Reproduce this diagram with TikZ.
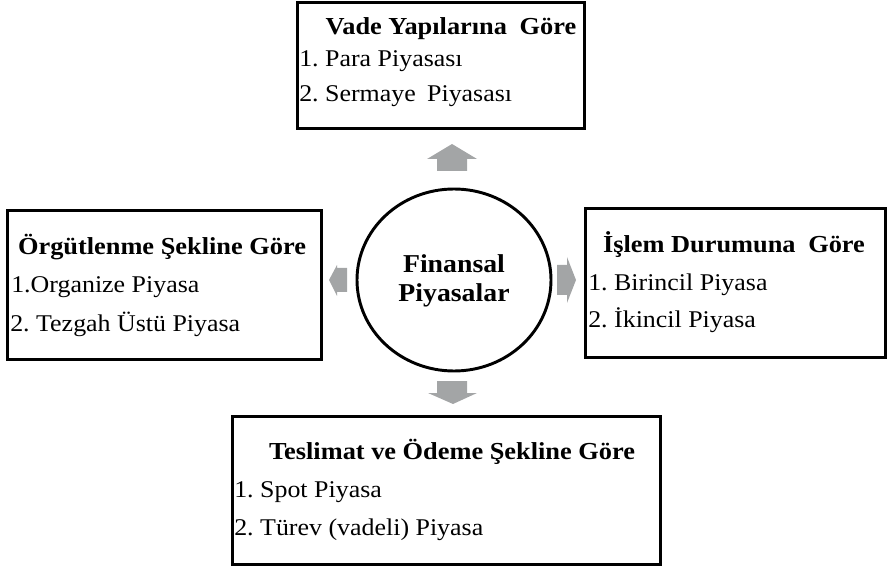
\documentclass[tikz,border=0pt]{standalone}
\usepackage{fontspec}
\setmainfont[FakeStretch=1.08]{Liberation Serif}
\definecolor{arrowgray}{RGB}{163,165,166}
\frenchspacing
\begin{document}
\begin{tikzpicture}[x=0.75pt,y=-0.75pt,
  box/.style={draw=black,line width=2.25pt},
  item/.style={inner sep=0pt,anchor=base west,font=\fontsize{18}{21}\selectfont},
  head/.style={inner sep=0pt,anchor=base,font=\fontsize{18.3}{21}\selectfont\bfseries},
  blockarrow/.style={fill=arrowgray,draw=none}]
\useasboundingbox (0,0) rectangle (889,570);
% boxes
\draw[box] (297,3) rectangle (584,129);
\draw[box] (7,211) rectangle (321,359);
\draw[box] (585,209) rectangle (885,357);
\draw[box] (232,416) rectangle (660,564);
% centre
\draw[line width=2.2pt] (454,280) ellipse [x radius=97, y radius=91];
\node[inner sep=0pt,anchor=base,font=\fontsize{19.3}{22}\selectfont\bfseries] (fin1) at (454,273) {Finansal};
\node[inner sep=0pt,anchor=base,font=\fontsize{19.3}{22}\selectfont\bfseries] (fin2) at (454,302) {Piyasalar};
% top
\node[head] (t0) at (451,35) {Vade Yapılarına\hspace{0.25em} Göre};
\node[item] (t1) at (299,67) {1. Para Piyasası};
\node[item] (t2) at (299,102) {2. Sermaye\hspace{0.2em} Piyasası};
% left
\node[head] (l0) at (162,255) {Örgütlenme Şekline Göre};
\node[item] (l1) at (11,293) {1.Organize Piyasa};
\node[item] (l2) at (10,331) {2. Tezgah Üstü Piyasa};
% right
\node[head] (r0) at (734,253) {İşlem Durumuna\hspace{0.25em} Göre};
\node[item] (r1) at (588,291) {1. Birincil Piyasa};
\node[item] (r2) at (588,328) {2. İkincil Piyasa};
% bottom
\node[head] (b0) at (452,459) {Teslimat ve Ödeme Şekline Göre};
\node[item] (b1) at (234,497) {1. Spot Piyasa};
\node[item] (b2) at (234,535) {2. Türev (vadeli) Piyasa};
% arrows
\fill[blockarrow] (437,171) -- (437,159) -- (427,159) -- (452,144) -- (477,159) -- (467,159) -- (467,171) -- cycle;
\fill[blockarrow] (437,381) -- (467,381) -- (467,393) -- (477,393) -- (453,404) -- (428,393) -- (437,393) -- cycle;
\fill[blockarrow] (347,268) -- (337,268) -- (337,265) -- (329,280) -- (337,296) -- (337,292) -- (347,292) -- cycle;
\fill[blockarrow] (557,265) -- (567,265) -- (567,257) -- (576,280) -- (567,303) -- (567,295) -- (557,295) -- cycle;
\end{tikzpicture}
\end{document}
